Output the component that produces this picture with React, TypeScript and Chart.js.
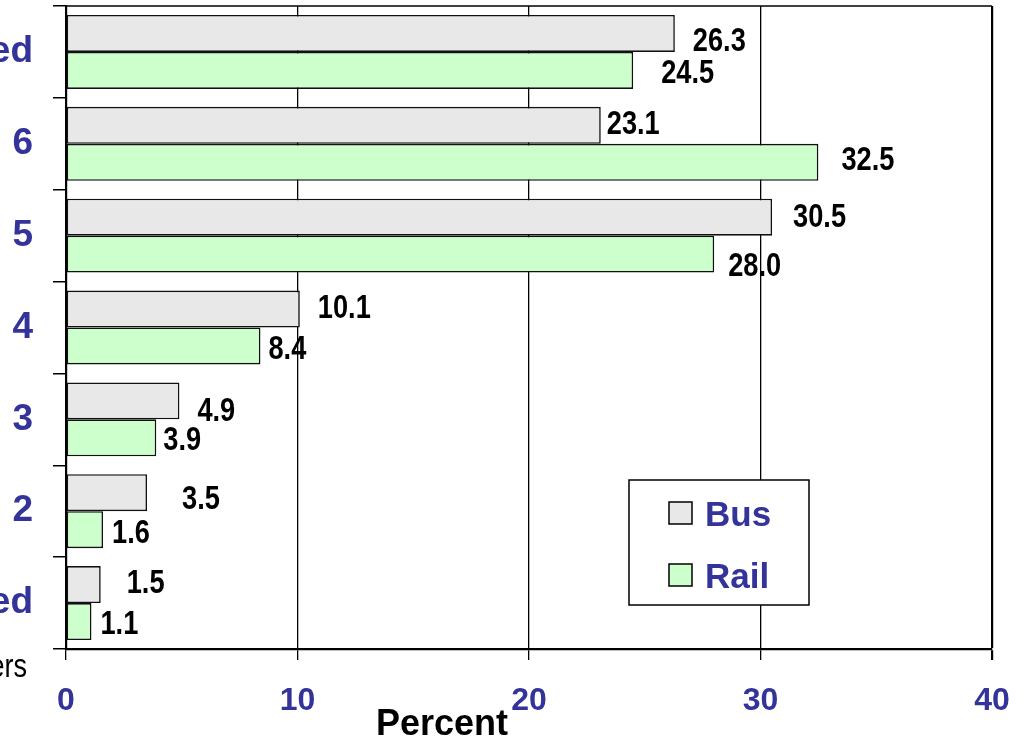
import React, { useEffect, useRef } from "react";
import { Chart, registerables } from "chart.js";

Chart.register(...registerables);

// Satisfaction ratings, top to bottom
const ratings = ["Very satisfied", "6", "5", "4", "3", "2", "Very dissatisfied"];
// Share of riders giving each rating (percent)
const busShare = [26.3, 23.1, 30.5, 10.1, 4.9, 3.5, 1.5];
const railShare = [24.5, 32.5, 28.0, 8.4, 3.9, 1.6, 1.1];
const percentTicks = [0, 10, 20, 30, 40];

// Hand-placed value labels: [dx from bar end, dy from bar centre]
const busLabelNudge = [[18, 6], [6, -3], [21, -2], [18, -3], [18, 8], [35, 4], [26, -4]];
const railLabelNudge = [[28, 1], [23, -4], [14, 10], [8, 1], [7, 0], [9, 1], [9, 0]];

const NAVY = "#333399";
const FONT = "'Liberation Sans', Arial, Helvetica, sans-serif";
const SHIFT = 420; // canvas extends this far past the left edge of the frame
const W = 1024 + SHIFT;
const H = 739;

const valueLabels = {
  id: "valueLabels",
  afterDatasetsDraw(chart: any) {
    const ctx = chart.ctx;
    chart.data.datasets.forEach((ds: any, di: number) => {
      const meta = chart.getDatasetMeta(di);
      const nudges = di === 0 ? busLabelNudge : railLabelNudge;
      meta.data.forEach((bar: any, i: number) => {
        const [dx, dy] = nudges[i];
        ctx.save();
        ctx.font = `bold 34px ${FONT}`;
        ctx.fillStyle = "#000";
        ctx.textAlign = "left";
        ctx.textBaseline = "alphabetic";
        ctx.translate(bar.x + dx, bar.y + dy + 12);
        ctx.scale(0.8, 1);
        ctx.fillText(Number(ds.data[i]).toFixed(1), 0, 0);
        ctx.restore();
      });
    });
  },
};

const frameAndText = {
  id: "frameAndText",
  afterDraw(chart: any) {
    const ctx = chart.ctx;
    const ca = chart.chartArea;
    ctx.save();
    // top edge of the plot frame
    ctx.strokeStyle = "#000";
    ctx.lineWidth = 1.5;
    ctx.beginPath();
    ctx.moveTo(ca.left, ca.top);
    ctx.lineTo(ca.right, ca.top);
    ctx.stroke();

    // axis titles
    ctx.fillStyle = "#000";
    ctx.font = `bold 36px ${FONT}`;
    ctx.textAlign = "center";
    ctx.textBaseline = "alphabetic";
    ctx.fillText("Percent", ca.left + 376, 735);

    ctx.font = `33px ${FONT}`;
    ctx.textAlign = "right";
    ctx.translate(ca.left - 39, 677);
    ctx.scale(0.82, 1);
    ctx.fillText("Riders", 0, 0);
    ctx.restore();

    // legend box
    const lx = ca.left + 563;
    const ly = ca.top + 474;
    ctx.save();
    ctx.fillStyle = "#fff";
    ctx.fillRect(lx, ly, 180, 125);
    ctx.strokeStyle = "#000";
    ctx.lineWidth = 1.5;
    ctx.strokeRect(lx, ly, 180, 125);
    const rows = [22, 84];
    chart.data.datasets.forEach((ds: any, di: number) => {
      const sy = ly + rows[di];
      ctx.fillStyle = ds.backgroundColor;
      ctx.fillRect(lx + 40, sy, 23, 22);
      ctx.strokeStyle = "#000";
      ctx.lineWidth = 1.5;
      ctx.strokeRect(lx + 40, sy, 23, 22);
      ctx.fillStyle = NAVY;
      ctx.font = `bold 35px ${FONT}`;
      ctx.textAlign = "left";
      ctx.textBaseline = "alphabetic";
      ctx.fillText(ds.label, lx + 76, sy + 11 + 12.5);
    });
    ctx.restore();
  },
};

function ShareChart() {
  const ref = useRef<HTMLCanvasElement | null>(null);

  useEffect(() => {
    if (!ref.current) return;
    const chart = new Chart(ref.current, {
      type: "bar",
      data: {
        labels: ratings,
        datasets: [
          {
            label: "Bus",
            data: busShare,
            backgroundColor: "#E8E8E8",
            borderColor: "#111",
            borderWidth: 1.6,
            borderSkipped: false,
          },
          {
            label: "Rail",
            data: railShare,
            backgroundColor: "#CCFFCC",
            borderColor: "#111",
            borderWidth: 1.6,
            borderSkipped: false,
          },
        ],
      },
      options: {
        indexAxis: "y",
        responsive: false,
        animation: false,
        devicePixelRatio: 1,
        categoryPercentage: 0.805,
        barPercentage: 1.0,
        layout: { padding: { top: 6, right: 32, left: 0, bottom: 0 } },
        plugins: {
          legend: { display: false },
          tooltip: { enabled: false },
          title: { display: false },
        },
        scales: {
          x: {
            type: "linear",
            min: 0,
            max: 40,
            afterBuildTicks(scale: any) {
              scale.ticks = percentTicks.map((v) => ({ value: v }));
            },
            afterFit(scale: any) {
              scale.height = H - 649;
              scale.paddingLeft = 0;
              scale.paddingRight = 0;
            },
            grid: {
              color: "#000",
              lineWidth: (c: any) => (c.tick && c.tick.value === 40 ? 2.2 : 1.3),
              tickLength: 11,
              drawOnChartArea: true,
            },
            border: { display: true, color: "#000", width: 2.2 },
            ticks: {
              color: NAVY,
              font: { family: FONT, size: 32, weight: "bold" },
              padding: 22,
              maxRotation: 0,
            },
          },
          y: {
            type: "category",
            afterFit(scale: any) {
              scale.width = SHIFT + 66;
              scale.paddingTop = 0;
              scale.paddingBottom = 0;
            },
            grid: {
              offset: true,
              drawOnChartArea: false,
              drawTicks: true,
              tickLength: 13,
              color: "#000",
              lineWidth: 1.5,
            },
            border: { display: true, color: "#000", width: 2.2 },
            ticks: {
              color: NAVY,
              font: { family: FONT, size: 37, weight: "bold" },
              padding: 20,
            },
          },
        },
      },
      plugins: [valueLabels, frameAndText],
    });
    return () => chart.destroy();
  }, []);

  return (
    <canvas
      ref={ref}
      width={W}
      height={H}
      style={{ position: "absolute", left: -SHIFT, top: 0, width: W, height: H }}
    />
  );
}

export default function App() {
  return (
    <div
      style={{
        position: "fixed",
        left: 0,
        top: 0,
        width: 1024,
        height: 739,
        overflow: "hidden",
        background: "#fff",
      }}
    >
      <ShareChart />
    </div>
  );
}
